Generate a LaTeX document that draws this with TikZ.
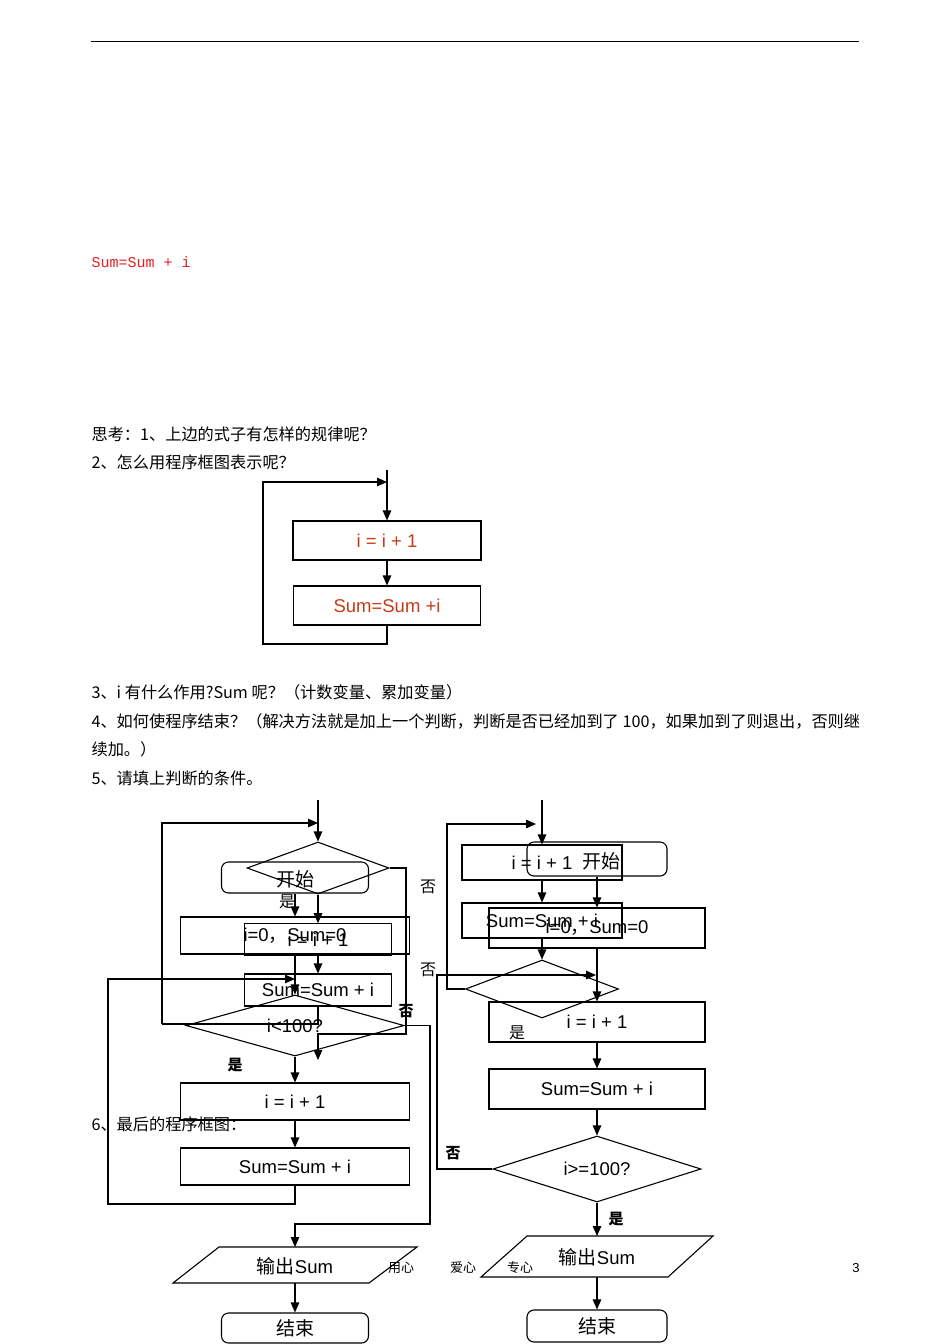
\documentclass[tikz,border=0pt]{standalone}
\usepackage{fontspec}
\setmainfont{Liberation Sans}
\newfontfamily\cjk{Noto Sans CJK SC}
\newfontfamily\monof{Liberation Mono}
\usetikzlibrary{arrows.meta,shapes.geometric}
\definecolor{sred}{RGB}{228,30,36}
\definecolor{bred}{RGB}{196,60,24}
\newcommand\latf{\fontsize{18.5}{22}\selectfont}
\newcommand\cjkf{\cjk\fontsize{19}{22}\selectfont}
\newcommand\bodyf{\cjk\fontsize{16.2}{20}\selectfont}
\newcommand\lblf{\cjk\fontsize{16}{18}\selectfont}
\newcommand\footf{\cjk\fontsize{13}{15}\selectfont}
\begin{document}
\begin{tikzpicture}[x=1pt,y=-1pt,line width=1.1pt,
  arr/.style={-{Triangle[length=10pt,width=8.5pt]}},
  box/.style={draw,rectangle,inner sep=0pt,font=\latf},
  rbox/.style={draw,rectangle,rounded corners=7pt,inner sep=0pt,font=\cjkf},
  dia/.style={draw,diamond,inner sep=0pt},
  lbl/.style={inner sep=0pt,font=\latf},
  yn/.style={inner sep=0pt,font=\lblf},
  body/.style={anchor=west,inner sep=0pt,font=\bodyf},
  foot/.style={inner sep=0pt,font=\footf}]
\fill[white] (0,0) rectangle (950,1344);
\useasboundingbox (0,0) rectangle (950,1344);

% header rule
\coordinate (r1) at (91,41);
\coordinate (r2) at (859,41);
\draw[line width=0.9pt] (r1) -- (r2);

% red formula
\node[anchor=west,inner sep=0pt,text=sred,font=\monof\fontsize{15}{17}\selectfont] (red) at (91,262) {Sum=Sum + i};

% body text
\node[body] (q1) at (91,434) {思考：1、上边的式子有怎样的规律呢？};
\node[body] (q2) at (91,462) {2、怎么用程序框图表示呢？};
\node[body] (q3) at (91,692) {3、i 有什么作用?Sum 呢？（计数变量、累加变量）};
\node[body] (q4) at (91,721) {4、如何使程序结束？（解决方法就是加上一个判断，判断是否已经加到了 100，如果加到了则退出，否则继};
\node[body] (q4b) at (91,749) {续加。）};
\node[body] (q5) at (91,778) {5、请填上判断的条件。};
\node[body] (q6) at (91,1124) {6、最后的程序框图：};

% ---------- top small flowchart ----------
\coordinate (ttop) at (387,470);
\node[box,minimum width=188pt,minimum height=39pt,text=bred] (t1) at (387,540.5) {i = i + 1};
\node[box,minimum width=187pt,minimum height=39pt,text=bred] (t2) at (387,605.5) {Sum=Sum +i};
\coordinate (tj) at (387,482);
\coordinate (tl1) at (263,644);
\coordinate (tl2) at (263,482);
\draw[arr] (ttop) -- (t1.north);
\draw[arr] (t1.south) -- (t2.north);
\draw[arr] (t2.south) -- (t2.south |- tl1) -- (tl1) -- (tl2) -- (tj);

% ---------- chart A ----------
\coordinate (Atop) at (318,800);
\node[dia,minimum width=142pt,minimum height=52pt] (dA) at (318,868) {};
\node[box,minimum width=147pt,minimum height=31.5pt] (A1) at (318,939.5) {i = i + 1};
\node[box,minimum width=147pt,minimum height=32pt] (A2) at (318,990) {Sum=Sum + i};
\coordinate (AL1) at (162,1024);
\coordinate (AL2) at (162,823);
\coordinate (Aj) at (318,823);
\draw[arr] (Atop) -- (dA.north);
\draw[arr] (dA.south) -- (A1.north);
\draw[arr] (A1.south) -- (A2.north);
\draw (A2.south) -- (A2.south |- AL1) -- (AL1);
\draw[arr] (AL1) -- (AL2) -- (Aj);
\coordinate (AR1) at (406,868);
\coordinate (AR2) at (406,1034);
\coordinate (AR3) at (318,1034);
\coordinate (AX) at (318,1060);
\draw[arr] (dA.east) -- (AR1) -- (AR2) -- (AR3) -- (AX);
\node[yn] (nA) at (428,887) {否};

% ---------- chart B ----------
\node[rbox,minimum width=147pt,minimum height=31pt] (S1) at (295,877.5) {};
\node[inner sep=0pt,font=\cjkf] (S1t) at (295,879) {开始};
\node[box,minimum width=229pt,minimum height=37pt] (B1) at (295,935.5) {i=0{\cjk ，}Sum=0};
\node[dia,minimum width=218pt,minimum height=61pt] (dB) at (295,1025.5) {};
\node[lbl] (dBt) at (295,1025.5) {i<100?};
\node[box,minimum width=229pt,minimum height=37pt] (B2) at (295,1101.5) {i = i + 1};
\node[box,minimum width=229pt,minimum height=37pt] (B3) at (295,1166.5) {Sum=Sum + i};
\draw[arr] (S1.south) -- (B1.north);
\draw[arr] (B1.south) -- (dB.north);
\coordinate (BL0) at (295,1204);
\coordinate (BL1) at (108,1204);
\coordinate (BL2) at (108,979);
\coordinate (Bj) at (295,979);
\draw[arr] (B3.south) -- (BL0) -- (BL1) -- (BL2) -- (Bj);
\draw[arr] (dB.south) -- (B2.north);
\draw[arr] (B2.south) -- (B3.north);
\coordinate (BR1) at (430,1025.5);
\coordinate (BR2) at (430,1224);
\coordinate (BR3) at (295,1224);
\coordinate (O1top) at (295,1247);
\draw[arr] (dB.east) -- (BR1) -- (BR2) -- (BR3) -- (O1top);
\node[yn] (yB0) at (287,902) {是};
\node[yn,font=\cjk\bfseries\fontsize{15}{17}\selectfont] (yB) at (235,1065) {是};
\node[yn,font=\cjk\bfseries\fontsize{15}{17}\selectfont] (nB) at (406,1011) {否};
\coordinate (p1a) at (219,1247);
\coordinate (p1b) at (417,1247);
\coordinate (p1c) at (369,1283);
\coordinate (p1d) at (173,1283);
\draw (p1a) -- (p1b) -- (p1c) -- (p1d) -- cycle;
\node[inner sep=0pt] (O1) at (295,1266) {{\cjkf 输出}{\latf Sum}};
\coordinate (O1bot) at (295,1283);
\node[rbox,minimum width=147pt,minimum height=30pt] (E1) at (295,1328) {结束};
\draw[arr] (O1bot) -- (E1.north);

% ---------- chart C ----------
\coordinate (Ctop) at (542,800);
\node[box,minimum width=160pt,minimum height=35pt] (C1) at (542,862.5) {i = i + 1};
\node[box,minimum width=160pt,minimum height=35pt] (C2) at (542,920.5) {Sum=Sum + i};
\node[dia,minimum width=153pt,minimum height=58pt] (dC) at (542,989) {};
\draw[arr] (Ctop) -- (C1.north);
\draw[arr] (C1.south) -- (C2.north);
\draw[arr] (C2.south) -- (dC.north);
\coordinate (CL1) at (447,989);
\coordinate (CL2) at (447,824);
\coordinate (Cj) at (536,824);
\draw[arr] (dC.west) -- (CL1) -- (CL2) -- (Cj);
\node[yn] (nC) at (428,970) {否};
\node[yn] (yC) at (517,1033) {是};

% ---------- chart D ----------
\node[rbox,minimum width=140pt,minimum height=34pt] (S2) at (597,859) {};
\node[inner sep=0pt,font=\cjkf] (S2t) at (601,861) {开始};
\node[box,minimum width=216pt,minimum height=40pt] (D0) at (597,928) {i=0{\cjk ，}Sum=0};
\node[box,minimum width=216pt,minimum height=40pt] (D1) at (597,1022) {i = i + 1};
\node[box,minimum width=216pt,minimum height=40pt] (D2) at (597,1089) {Sum=Sum + i};
\node[dia,minimum width=208pt,minimum height=66pt] (dD) at (597,1169) {};
\node[lbl] (dDt) at (597,1169) {i>=100?};
\draw[arr] (S2.south) -- (D0.north);
\draw[arr] (D0.south) -- (D1.north);
\draw[arr] (D1.south) -- (D2.north);
\draw[arr] (D2.south) -- (dD.north);
\coordinate (DL1) at (437,1169);
\coordinate (DL2) at (437,975);
\coordinate (Dj) at (596,975);
\draw[arr] (dD.west) -- (DL1) -- (DL2) -- (Dj);
\node[yn,font=\cjk\bfseries\fontsize{15}{17}\selectfont] (nD) at (453,1153) {否};
\node[yn,font=\cjk\bfseries\fontsize{15}{17}\selectfont] (yD) at (616,1219) {是};
\coordinate (O2top) at (597,1236);
\draw[arr] (dD.south) -- (O2top);
\coordinate (p2a) at (527,1236);
\coordinate (p2b) at (713,1236);
\coordinate (p2c) at (668,1277);
\coordinate (p2d) at (481,1277);
\draw (p2a) -- (p2b) -- (p2c) -- (p2d) -- cycle;
\node[inner sep=0pt] (O2) at (597,1257) {{\cjkf 输出}{\latf Sum}};
\coordinate (O2bot) at (597,1277);
\node[rbox,minimum width=140pt,minimum height=32pt] (E2) at (597,1326) {结束};
\draw[arr] (O2bot) -- (E2.north);

% footer
\node[foot] (f1) at (401,1268) {用心};
\node[foot] (f2) at (463,1268) {爱心};
\node[foot] (f3) at (520,1268) {专心};
\node[foot,font=\fontsize{13}{15}\selectfont] (f4) at (856,1268) {3};
\end{tikzpicture}
\end{document}
